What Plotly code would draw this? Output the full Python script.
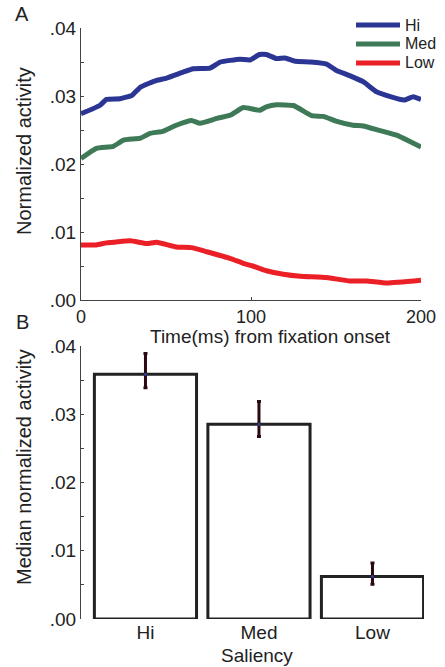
import plotly.graph_objects as go

# ---- Panel A data ----
time_hi = [0, 11, 15, 23, 30, 35, 44.5, 50, 60, 66, 76, 82, 93.5, 99.4, 105, 109, 115, 120, 126, 135, 144.5, 150, 158, 166, 174, 182, 190, 195.5, 200]
hi_vals = [.0274, .0286, .0295, .0296, .0301, .0313, .0323, .0326, .0335, .0340, .0341, .0350, .0354, .0353, .0361, .0361, .0355, .0356, .0351, .0350, .0347, .0338, .0330, .0321, .0306, .0299, .0294, .0299, .0295]

time_med = [0, 9, 19, 25, 35, 40.6, 48, 56, 65, 70, 80, 88, 95.5, 105, 109, 115, 125, 135.7, 142.5, 150, 160, 166, 176, 186, 193.5, 200]
med_vals = [.0208, .0223, .0226, .0235, .0238, .0245, .0248, .0257, .0264, .0260, .0267, .0272, .0283, .0279, .0284, .0287, .0286, .0271, .0270, .0263, .0257, .0256, .0249, .0242, .0233, .0225]

time_low = [0, 9, 15, 29, 38.6, 44.5, 56, 65, 74, 88, 95.5, 101, 109, 119, 129, 144.5, 158, 168, 180, 200]
low_vals = [.0081, .0081, .0084, .0087, .0083, .0085, .0078, .0077, .0071, .0061, .0054, .0050, .0043, .0038, .0035, .0033, .0028, .0028, .0025, .0029]

# ---- Panel B data ----
categories = ["Hi", "Med", "Low"]
median_vals = [.03585, .02854, .00624]
err_plus = [.00305, .00331, .00196]
err_minus = [.00195, .00181, .00114]

y_tickvals = [0, .005, .01, .015, .02, .025, .03, .035, .04]
y_ticktext = [".00", "", ".01", "", ".02", "", ".03", "", ".04"]

FONT = "Liberation Sans, Arial, Helvetica, sans-serif"
AX = "#444444"
W, H = 445, 667

fig = go.Figure()

colors = {"Hi": "#2b3593", "Med": "#3f7a58", "Low": "#eb1f26"}
series = [("Hi", time_hi, hi_vals), ("Med", time_med, med_vals), ("Low", time_low, low_vals)]
for name, xs, ys in series:
    fig.add_trace(go.Scatter(x=xs, y=ys, mode="lines", name=name, showlegend=False,
                             line=dict(color=colors[name], width=5, shape="spline", smoothing=0.4),
                             xaxis="x", yaxis="y"))

xc = [1, 2, 3]
fig.add_trace(go.Bar(x=xc, y=median_vals, width=0.9,
                     marker=dict(color="white", line=dict(color="#222222", width=3)),
                     error_y=dict(type="data", symmetric=False, array=err_plus, arrayminus=err_minus,
                                  color="#2a0a10", thickness=3, width=2),
                     showlegend=False, xaxis="x2", yaxis="y2"))
fig.add_trace(go.Scatter(x=xc, y=median_vals, mode="markers",
                         marker=dict(color="#3040a0", size=3), showlegend=False,
                         xaxis="x2", yaxis="y2"))


def ann(text, px, py, size=20, angle=0, xanchor="center"):
    return dict(text=text, x=px / W, y=1 - py / H, xref="paper", yref="paper",
                xanchor=xanchor, yanchor="middle", showarrow=False, textangle=angle,
                borderpad=0, font=dict(size=size))


# manual legend (key lines + labels)
shapes = []
annotations = []
legend_rows = [25, 44, 63]
for (name, _, _), ry in zip(series, legend_rows):
    shapes.append(dict(type="line", xref="paper", yref="paper",
                       x0=356 / W, x1=400 / W, y0=1 - ry / H, y1=1 - ry / H,
                       line=dict(color=colors[name], width=5)))
    annotations.append(ann(name, 404, ry, size=16, xanchor="left"))

annotations += [
    ann("A", 22, 14),
    ann("B", 22, 322),
    ann("Normalized activity", 24, 151, angle=-90),
    ann("Time(ms) from fixation onset", 270, 336, size=19),
    ann("Median normalized activity", 24, 467, angle=-90),
    ann("Saliency", 257, 655, size=19),
]

fig.update_layout(
    template="none",
    width=W, height=H,
    margin=dict(l=0, r=0, t=0, b=0, pad=0),
    paper_bgcolor="white", plot_bgcolor="white",
    font=dict(family=FONT, size=18, color="#222222"),
    showlegend=False,
    shapes=shapes,
    annotations=annotations,
    xaxis=dict(domain=[81 / W, 421 / W], range=[0, 200], tickvals=[0, 100, 200],
               showline=True, linecolor=AX, linewidth=1, ticks="inside", ticklen=3,
               tickcolor=AX, showgrid=False, zeroline=False, anchor="y", automargin=False,
               tickfont=dict(size=18)),
    yaxis=dict(domain=[1 - 300 / H, 1 - 28 / H], range=[0, 0.04], tickvals=y_tickvals,
               ticktext=y_ticktext, showline=True, linecolor=AX, linewidth=1,
               ticks="inside", ticklen=3, tickcolor=AX, showgrid=False, zeroline=False,
               anchor="x", automargin=False, tickfont=dict(size=19)),
    xaxis2=dict(domain=[81 / W, 424 / W], range=[0.432, 3.454], tickvals=xc, ticktext=categories,
                showline=False, ticks="", showgrid=False, zeroline=False, anchor="y2",
                automargin=False, tickfont=dict(size=19)),
    yaxis2=dict(domain=[1 - 619 / H, 1 - 346 / H], range=[0, 0.04], tickvals=y_tickvals,
                ticktext=y_ticktext, showline=True, linecolor=AX, linewidth=1,
                ticks="inside", ticklen=3, tickcolor=AX, showgrid=False, zeroline=False,
                anchor="x2", automargin=False, tickfont=dict(size=19)),
)

fig.write_html("out.html")
